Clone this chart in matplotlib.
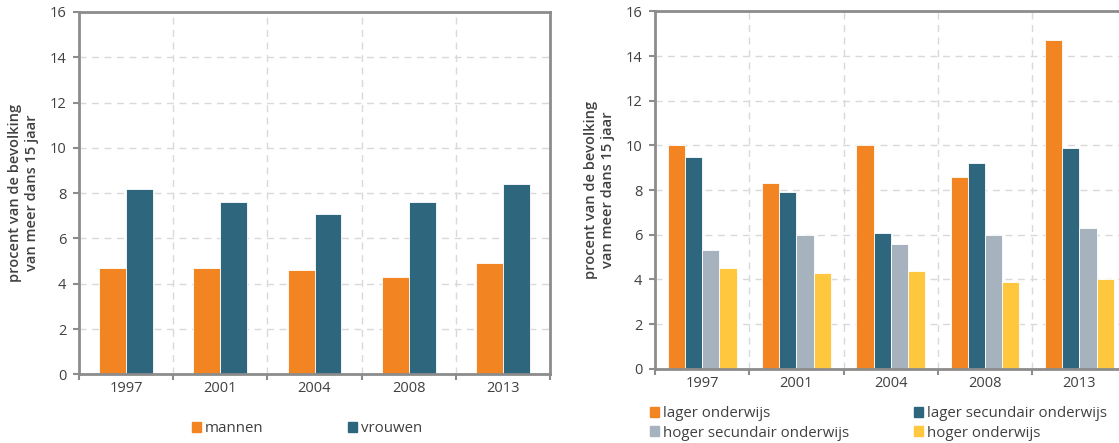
import numpy as np
import matplotlib
matplotlib.use("agg")
import matplotlib.pyplot as plt
from matplotlib.patches import Patch

years = ["1997", "2001", "2004", "2008", "2013"]

mannen = [4.7, 4.7, 4.6, 4.3, 4.9]
vrouwen = [8.2, 7.6, 7.1, 7.6, 8.4]

lager = [10.0, 8.3, 10.0, 8.6, 14.7]
lager_sec = [9.5, 7.9, 6.1, 9.2, 9.9]
hoger_sec = [5.3, 6.0, 5.6, 6.0, 6.3]
hoger = [4.5, 4.3, 4.4, 3.9, 4.0]

ylabel = "procent van de bevolking\nvan meer dans 15 jaar"

c_orange = "#F28522"
c_teal = "#2E677D"
c_grey = "#A7B2BF"
c_yellow = "#FFC73D"
txt = "#404040"
spine_c = "#8C8C8C"

plt.rcParams["font.family"] = ["Open Sans", "DejaVu Sans"]

W, H = 1119, 443
fig = plt.figure(figsize=(W / 100, H / 100), dpi=100)
ax1 = fig.add_axes([79 / W, 1 - 374.4 / H, 471 / W, 362.4 / H])
ax2 = fig.add_axes([655 / W, 1 - 368.8 / H, 471.5 / W, 357.4 / H])


def style(ax):
    x = np.arange(len(years))
    ax.set_xlim(-0.5, len(years) - 0.5)
    ax.set_ylim(0, 16)
    ax.set_yticks(np.arange(0, 17, 2))
    ax.set_xticks(np.arange(-0.5, len(years), 1.0))
    ax.set_xticklabels([])
    ax.set_xticks(x, minor=True)
    ax.set_xticklabels(years, minor=True)
    ax.tick_params(axis="x", which="minor", length=0, pad=5, labelsize=10.5, labelcolor=txt)
    ax.tick_params(axis="x", which="major", length=4, width=1.5, color=spine_c, direction="out")
    ax.tick_params(axis="y", length=4, width=1.5, color=spine_c, labelsize=10.5, labelcolor=txt, pad=5)
    ax.grid(True, which="major", color="#D9D9D9", linestyle=(0, (5, 4)), linewidth=1)
    ax.set_axisbelow(True)
    for s in ax.spines.values():
        s.set_color(spine_c)
        s.set_linewidth(2)
    ax.set_ylabel(ylabel, fontsize=10.5, fontweight="semibold", color=txt, labelpad=8, linespacing=1.2)


x = np.arange(len(years))

w1 = 0.285
ax1.bar(x - w1 / 2, mannen, w1, color=c_orange, edgecolor="white", linewidth=0.6)
ax1.bar(x + w1 / 2, vrouwen, w1, color=c_teal, edgecolor="white", linewidth=0.6)
style(ax1)

w2 = 0.1825
series = [lager, lager_sec, hoger_sec, hoger]
colors = [c_orange, c_teal, c_grey, c_yellow]
for i, (vals, col) in enumerate(zip(series, colors)):
    ax2.bar(x + (i - 1.5) * w2, vals, w2, color=col, edgecolor="white", linewidth=0.6)
style(ax2)

leg_kw = dict(frameon=False, loc="center left", borderpad=0, handlelength=0.65,
              handleheight=0.65, handletextpad=0.25, fontsize=10.8, labelcolor=txt)

h_left = [Patch(color=c_orange), Patch(color=c_teal)]
fig.legend(h_left, ["mannen", "vrouwen"], ncol=2,
           bbox_to_anchor=(184 / W, 1 - 429 / H), columnspacing=5.6, **leg_kw)

h_right = [Patch(color=c_orange), Patch(color=c_grey), Patch(color=c_teal), Patch(color=c_yellow)]
fig.legend(h_right, ["lager onderwijs", "hoger secundair onderwijs",
                     "lager secundair onderwijs", "hoger onderwijs"], ncol=2,
           bbox_to_anchor=(642 / W, 1 - 423.5 / H), columnspacing=4.3,
           labelspacing=0.3, **leg_kw)

fig.savefig("out.png", dpi=100)
